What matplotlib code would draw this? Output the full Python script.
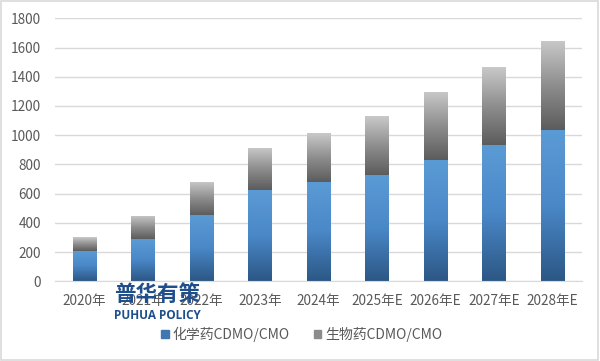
import numpy as np
import matplotlib
matplotlib.use("Agg")
import matplotlib.pyplot as plt
from matplotlib.colors import LinearSegmentedColormap
from matplotlib.patches import Rectangle

plt.rcParams['font.family'] = ['Noto Sans CJK SC', 'DejaVu Sans']

# data
years = ['2020年', '2021年', '2022年', '2023年', '2024年',
         '2025年E', '2026年E', '2027年E', '2028年E']
chem = [210, 290, 456, 625, 682, 728, 830, 935, 1036]
bio = [95, 160, 226, 290, 335, 400, 467, 532, 610]
yticks = [0, 200, 400, 600, 800, 1000, 1200, 1400, 1600, 1800]

blue_cmap = LinearSegmentedColormap.from_list('b', ['#2c5785', '#4a88c8', '#5b9bd5'])
gray_cmap = LinearSegmentedColormap.from_list('g', ['#5c5c5c', '#8e8e8e', '#c9c9c9'])


def gradient_bars(ax, bars, cmap):
    # fill each bar with a vertical gradient clipped to the bar shape
    grad = np.linspace(0, 1, 256).reshape(-1, 1)
    for b in bars:
        x0, y0 = b.get_x(), b.get_y()
        w, h = b.get_width(), b.get_height()
        b.set_facecolor('none')
        im = ax.imshow(grad, cmap=cmap, origin='lower', aspect='auto',
                       extent=[x0, x0 + w, y0, y0 + h], zorder=2)
        im.set_clip_path(b)


fig = plt.figure(figsize=(6, 3.61), dpi=100)
ax = fig.add_axes([55 / 600, 1 - 281.3 / 361, 527 / 600, 263 / 361])

x = np.arange(len(years))
b1 = ax.bar(x, chem, width=0.4, linewidth=0, zorder=2)
b2 = ax.bar(x, bio, width=0.4, bottom=chem, linewidth=0, zorder=2)
gradient_bars(ax, b1, blue_cmap)
gradient_bars(ax, b2, gray_cmap)

ax.set_xlim(-0.5, len(years) - 0.5)
ax.set_ylim(0, 1800)
ax.set_yticks(yticks)
ax.set_xticks(x)
ax.set_xticklabels(years)
ax.tick_params(length=0, labelsize=9.8, colors='#595959')
ax.tick_params(axis='y', pad=10)
ax.tick_params(axis='x', pad=9)
ax.grid(axis='y', color='#d9d9d9', linewidth=1, zorder=0)
ax.set_axisbelow(True)
for s in ['top', 'right', 'left']:
    ax.spines[s].set_visible(False)
ax.spines['bottom'].set_color('#d9d9d9')

# legend
handles = [Rectangle((0, 0), 1, 1, color='#3f77b3'),
           Rectangle((0, 0), 1, 1, color='#8c8c8c')]
fig.legend(handles, ['化学药CDMO/CMO', '生物药CDMO/CMO'], loc='center',
           bbox_to_anchor=(0.503, 1 - 334 / 361), ncol=2, frameon=False,
           fontsize=10, labelcolor='#595959', handlelength=0.55,
           handleheight=0.55, handletextpad=0.3, columnspacing=1.7)

# watermark
fig.text(157 / 600, 1 - 294 / 361, '普华有策', ha='center', va='center',
         fontsize=15.5, fontweight='bold', color='#1f4e8c', zorder=5)
fig.text(157 / 600, 1 - 315.5 / 361, 'PUHUA POLICY', ha='center', va='center',
         fontsize=8.5, fontweight='bold', color='#1f4e8c', zorder=5,
         family=['Open Sans', 'DejaVu Sans'])

# outer frame
fig.patches.append(Rectangle((0.002, 0.003), 0.994, 0.993, transform=fig.transFigure,
                             fill=False, edgecolor='#d9d9d9', linewidth=1.2))

fig.savefig('out.png', dpi=100)
